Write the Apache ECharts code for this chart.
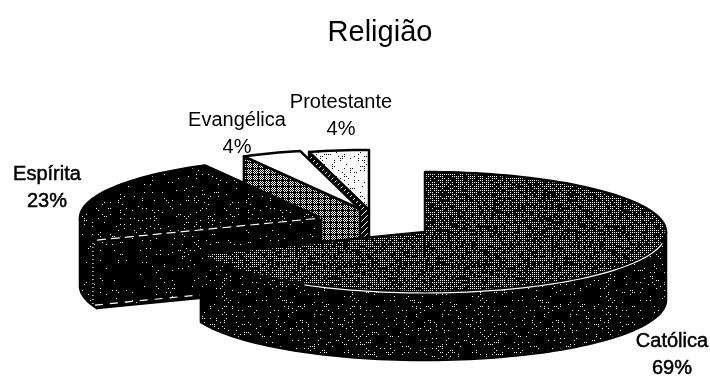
<!DOCTYPE html>
<html>
<head>
<meta charset="utf-8">
<style>
	html, body { margin: 0; padding: 0; background: #fff; }
	#chart { width: 710px; height: 376px; filter: blur(0.35px); }
</style>
<script src="https://cdn.jsdelivr.net/npm/echarts@6/dist/echarts.min.js"></script>
</head>
<body>
<div id="chart"></div>
<script>
const categories = ["Católica", "Espírita", "Evangélica", "Protestante"];
const values = [69, 23, 4, 4];

// pie geometry, in pixels
const CX = 425, CY = 232, RX = 241, RY = 60, DEPTH = 68;
const explodeX = [0, -104, -65, -56];
const explodeY = [0, -14, -23, -22];
const labelX = [672, 47, 237, 341];
const labelY = [355, 188, 134, 116];

// dithered fills, like the scanned original
function dither(ink, paper, amount, cell, seed) {
	const size = 128;
	const canvas = document.createElement("canvas");
	canvas.width = canvas.height = size;
	const ctx = canvas.getContext("2d");
	ctx.fillStyle = paper;
	ctx.fillRect(0, 0, size, size);
	ctx.fillStyle = ink;
	let s = seed;
	for (let y = 0; y < size; y += cell) {
		for (let x = 0; x < size; x += cell) {
			s = (s * 1103515245 + 12345) & 0x7fffffff;
			if ((s >> 8) % 1000 < amount * 1000) ctx.fillRect(x, y, 1, 1);
		}
	}
	return { image: canvas, repeat: "repeat" };
}

function tile(size, isInk) {
	const canvas = document.createElement("canvas");
	canvas.width = canvas.height = size;
	const ctx = canvas.getContext("2d");
	for (let y = 0; y < size; y++) {
		for (let x = 0; x < size; x++) {
			ctx.fillStyle = isInk(x, y) ? "#000" : "#fff";
			ctx.fillRect(x, y, 1, 1);
		}
	}
	return { image: canvas, repeat: "repeat" };
}

const topFills = [
	dither("#fff", "#000", 0.68, 2, 7),
	dither("#fff", "#000", 0.09, 2, 11),
	"#fff",
	dither("#000", "#fff", 0.22, 2, 23)
];
const wallFills = [
	dither("#fff", "#000", 0.12, 2, 31),
	dither("#fff", "#000", 0.04, 2, 37),
	"#000",
	"#000"
];
const faceFills = [
	"#000",
	dither("#fff", "#000", 0.05, 2, 41),
	tile(12, (x, y) => x % 6 === 0 || y % 6 === 0 || (x + y) % 2 === 0),
	tile(12, (x, y) => (x + y) % 6 > 1 || (x + y) % 2 === 1)
];

function arc(cx, cy, from, to) {
	const pts = [];
	const n = Math.max(2, Math.ceil((to - from) / 2));
	for (let i = 0; i <= n; i++) {
		const a = (from + (to - from) * i / n) * Math.PI / 180;
		pts.push([cx + RX * Math.sin(a), cy - RY * Math.cos(a)]);
	}
	return pts;
}

function drop(pts) {
	return pts.map(p => [p[0], p[1] + DEPTH]).reverse();
}

function lightEdge(points, z, dash) {
	return {
		type: "polyline", z2: z,
		shape: { points },
		style: { fill: null, stroke: "#fff", lineWidth: 1.2, lineDash: dash }
	};
}

function renderItem(params, api) {
	const i = params.dataIndex;
	const total = values.reduce((a, b) => a + b, 0);
	const start = values.slice(0, i).reduce((a, b) => a + b, 0) / total * 360;
	const end = start + api.value(0) / total * 360;
	const cx = CX + explodeX[i], cy = CY + explodeY[i];
	const z = (categories.length - i) * 10;
	const line = { stroke: "#000", lineWidth: 2.5, lineJoin: "round" };
	const corner = arc(cx, cy, start, start)[0];
	const children = [];

	// cut face on the counter-clockwise side
	if (Math.sin(start * Math.PI / 180) < -0.01) {
		const edge = [[cx, cy], corner];
		children.push({
			type: "polygon", z2: z,
			shape: { points: edge.concat(drop(edge)) },
			style: { fill: faceFills[i], ...line }
		});
	}
	// outer wall, only the front half shows
	const wallFrom = Math.max(start, 90), wallTo = Math.min(end, 270);
	if (wallTo > wallFrom) {
		const rim = arc(cx, cy, wallFrom, wallTo);
		children.push({
			type: "polygon", z2: z + 1,
			shape: { points: rim.concat(drop(rim)) },
			style: { fill: wallFills[i], ...line }
		});
	}
	// top surface
	children.push({
		type: "polygon", z2: z + 2,
		shape: { points: [[cx, cy]].concat(arc(cx, cy, start, end)) },
		style: { fill: topFills[i], ...line }
	});
	// light edges on the two big slices
	if (i === 0) {
		children.push(lightEdge(arc(cx, cy + 1, 100, 210), z + 3));
	}
	if (i === 1) {
		children.push(lightEdge([corner, [cx, cy]], z + 3, [9, 5]));
		children.push(lightEdge([[corner[0] - 4, corner[1] + 3], [corner[0] - 4, corner[1] + DEPTH - 4]], z + 3, [1, 3]));
		children.push(lightEdge([[corner[0] - 2, corner[1] + DEPTH - 3], [cx, cy + DEPTH - 3]], z + 3, [8, 7]));
	}
	children.push({
		type: "text", z2: 100,
		style: {
			x: labelX[i], y: labelY[i],
			text: categories[i] + "\n" + api.value(0) + "%",
			fill: "#000", font: "20px 'Liberation Sans'",
			stroke: i < 2 ? "#000" : null, lineWidth: 0.5,
			align: "center", verticalAlign: "middle", lineHeight: 27
		}
	});
	return { type: "group", children };
}

const chart = echarts.init(document.getElementById("chart"), null, { renderer: "canvas" });
chart.setOption({
	animation: false,
	backgroundColor: "#fff",
	title: {
		text: "Religião", left: 375, top: 13, textAlign: "center",
		textStyle: { fontFamily: "Liberation Sans", fontSize: 29, fontWeight: "normal", color: "#000" }
	},
	series: [{
		type: "custom",
		coordinateSystem: "none",
		renderItem,
		data: values.map((v, i) => ({ name: categories[i], value: [v] }))
	}]
});
</script>
</body>
</html>
